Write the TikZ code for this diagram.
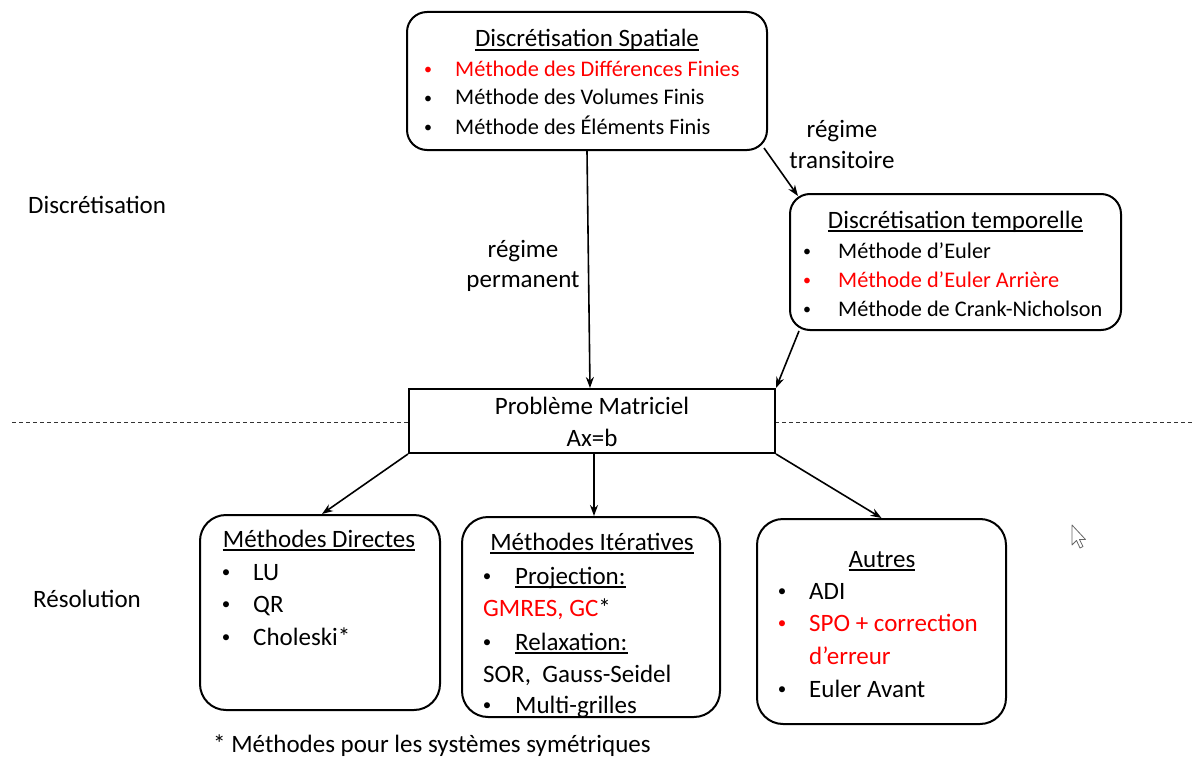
\documentclass[tikz,border=0pt]{standalone}
\usepackage{fontspec}
\setmainfont{Carlito}
\usetikzlibrary{arrows.meta}
\begin{document}
\begin{tikzpicture}[x=1pt,y=-1pt,
  topbox/.style={draw=black,line width=2pt,rounded corners=20pt,fill=white,inner sep=0pt},
  botbox/.style={draw=black,line width=2pt,rounded corners=26pt,fill=white,inner sep=0pt},
  matbox/.style={draw=black,line width=2pt,fill=white,inner sep=0pt},
  fa/.style={font=\fontsize{22.3}{29}\selectfont,inner sep=0pt,anchor=base west},
  fb/.style={font=\fontsize{25}{32}\selectfont,inner sep=0pt,anchor=base west},
  ttlb/.style={fb,anchor=base},
  bula/.style={font=\fontsize{16}{20}\selectfont,inner sep=0pt,anchor=base,yshift=2pt},
  bulb/.style={font=\fontsize{17}{20}\selectfont,inner sep=0pt,anchor=base,yshift=2.5pt},
  ul/.style={line width=1.3pt},
  arr/.style={line width=1.6pt,-{Stealth[length=11pt,width=8pt]}},
  hl/.style={text=red}]
\useasboundingbox (0,0) rectangle (1195,760);

% dashed separator
\coordinate (dl) at (12,422);
\coordinate (dr) at (1192,422);
\draw[line width=1pt,dash pattern=on 4pt off 3pt,black!80] (dl) -- (dr);

% side labels
\node[fb] (lbl1) at (28,213) {Discrétisation};
\node[fb] (lbl2) at (33,607) {Résolution};

% ---------- Discretisation spatiale
\node[topbox,minimum width=360pt,minimum height=138pt] (sp) at (587,81) {};
\node[ttlb] (spt) at (587,47) {Discrétisation Spatiale};
\draw[ul] ([yshift=-3pt]spt.base west) -- ([yshift=-3pt]spt.base east);
\node[bula,hl] (spb1) at (428,77) {\textbullet};
\node[fa,hl] (sp1) at (455,77) {Méthode des Différences Finies};
\node[bula] (spb2) at (428,105) {\textbullet};
\node[fa] (sp2) at (455,105) {Méthode des Volumes Finis};
\node[bula] (spb3) at (428,134) {\textbullet};
\node[fa] (sp3) at (455,134) {Méthode des Éléments Finis};

% ---------- Discretisation temporelle
\node[topbox,minimum width=331pt,minimum height=136pt] (tp) at (955.5,262) {};
\node[ttlb] (tpt) at (955.5,228) {Discrétisation temporelle};
\draw[ul] ([yshift=-3pt]tpt.base west) -- ([yshift=-3pt]tpt.base east);
\node[bula] (tpb1) at (807,258) {\textbullet};
\node[fa] (tp1) at (838,258) {Méthode d’Euler};
\node[bula,hl] (tpb2) at (807,287) {\textbullet};
\node[fa,hl] (tp2) at (838,287) {Méthode d’Euler Arrière};
\node[bula] (tpb3) at (807,316) {\textbullet};
\node[fa] (tp3) at (838,316) {Méthode de Crank-Nicholson};

% ---------- Probleme matriciel
\node[matbox,minimum width=366pt,minimum height=64pt] (mat) at (592,421) {};
\node[ttlb] (mat1) at (592,414) {Problème Matriciel};
\node[ttlb] (mat2) at (592,446) {Ax=b};

% ---------- Methodes directes
\node[botbox,minimum width=240pt,minimum height=195pt] (dir) at (320,612.5) {};
\node[ttlb] (dirt) at (319,547) {Méthodes Directes};
\draw[ul] ([yshift=-3pt]dirt.base west) -- ([yshift=-3pt]dirt.base east);
\node[bulb] (dirb1) at (226,580) {\textbullet};
\node[fb] (dir1) at (253,580) {LU};
\node[bulb] (dirb2) at (226,612) {\textbullet};
\node[fb] (dir2) at (253,612) {QR};
\node[bulb] (dirb3) at (226,645) {\textbullet};
\node[fb] (dir3) at (253,645) {Choleski*};

% ---------- Methodes iteratives
\node[botbox,minimum width=258pt,minimum height=200pt] (it) at (591,617) {};
\node[ttlb] (itt) at (592,550) {Méthodes Itératives};
\draw[ul] ([yshift=-3pt]itt.base west) -- ([yshift=-3pt]itt.base east);
\node[bulb] (itb1) at (487,584) {\textbullet};
\node[fb] (it1) at (515,584) {Projection:};
\draw[ul] ([yshift=-3pt]it1.base west) -- ([yshift=-3pt]it1.base east);
\node[fb] (it2) at (483,616) {\textcolor{red}{GMRES, GC}*};
\node[bulb] (itb3) at (487,650) {\textbullet};
\node[fb] (it3) at (515,650) {Relaxation:};
\draw[ul] ([yshift=-3pt]it3.base west) -- ([yshift=-3pt]it3.base east);
\node[fb] (it4) at (483,682) {SOR,\ \ Gauss-Seidel};
\node[bulb] (itb5) at (487,713) {\textbullet};
\node[fb] (it5) at (515,713) {Multi-grilles};

% ---------- Autres
\node[botbox,minimum width=249pt,minimum height=205pt] (au) at (881.5,621.5) {};
\node[ttlb] (aut) at (882,567) {Autres};
\draw[ul] ([yshift=-3pt]aut.base west) -- ([yshift=-3pt]aut.base east);
\node[bulb] (aub1) at (782,599) {\textbullet};
\node[fb] (au1) at (809,599) {ADI};
\node[bulb,hl] (aub2) at (782,631) {\textbullet};
\node[fb,hl] (au2) at (809,631) {SPO + correction};
\node[fb,hl] (au3) at (809,664) {d’erreur};
\node[bulb] (aub4) at (782,697) {\textbullet};
\node[fb] (au4) at (809,697) {Euler Avant};

% footnote
\node[fb] (fn) at (213,752) {* Méthodes pour les systèmes symétriques};

% edge labels
\node[ttlb] (perm1) at (523,257) {régime};
\node[ttlb] (perm2) at (523,287) {permanent};
\node[ttlb] (tran1) at (842,137) {régime};
\node[ttlb] (tran2) at (842,168) {transitoire};

% connectors
\draw[arr] (sp.south) -- ([xshift=-2pt]mat.north);
\draw[arr] ([xshift=-4pt,yshift=3pt]sp.south east) -- ([xshift=9pt,yshift=-3pt]tp.north west);
\draw[arr] ([xshift=10pt]tp.south west) -- (mat.north east);
\draw[arr] (mat.south west) -- ([xshift=2pt]dir.north);
\draw[arr] ([xshift=2pt]mat.south) -- ([xshift=3pt]it.north);
\draw[arr] (mat.south east) -- (au.north);

% mouse pointer (screenshot artifact)
\draw[fill=white,draw=black!60,line width=0.8pt,line join=round]
  (1072,525) -- (1072,545) -- (1076.5,540.5) -- (1080,548) -- (1083,546.5) -- (1079.5,539.5) -- (1085.5,539.5) -- cycle;
\end{tikzpicture}
\end{document}
